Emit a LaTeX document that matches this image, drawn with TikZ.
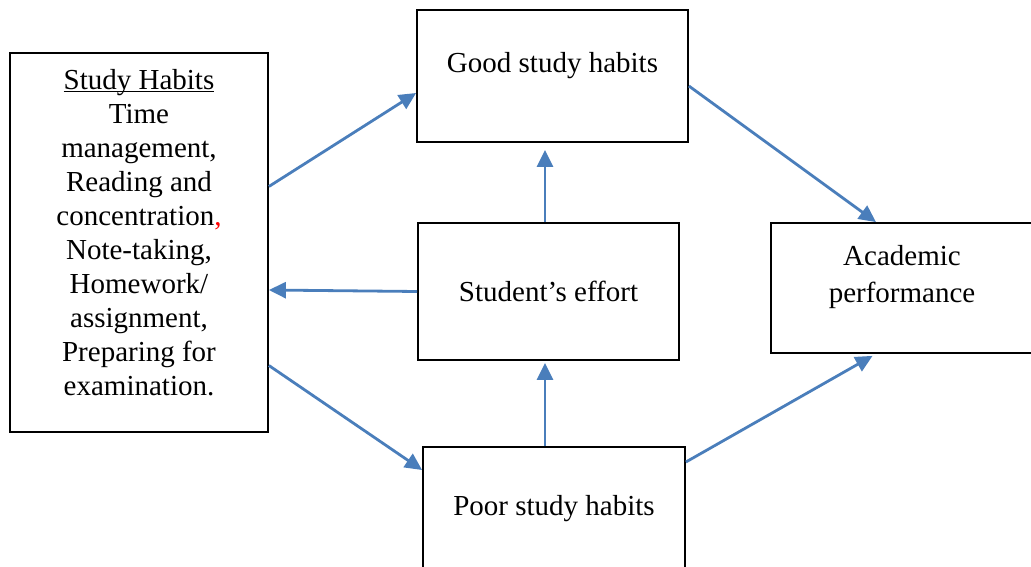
\documentclass[tikz,border=0pt]{standalone}
\usepackage{fontspec}
\setmainfont{Liberation Serif}
\usepackage{xcolor}
\usetikzlibrary{arrows.meta}
\definecolor{linkblue}{RGB}{74,126,187}

\begin{document}
\begin{tikzpicture}[x=1pt, y=-1pt,
	box/.style={draw, line width=1.8pt, align=center, font=\fontsize{29}{34}\selectfont},
	txt/.style={align=center, font=\fontsize{29}{34}\selectfont},
	link/.style={linkblue, line width=2.8pt, -{Triangle[length=17pt,width=16pt]}}]
	\useasboundingbox (0,0) rectangle (1031,567);
	\node [box, minimum width=258pt, minimum height=379pt] (habits) at (139,242.5) {};
	\node [txt] (habitstext) at (139,243) {\underline{\smash{Study Habits}}\\Time\\management,\\Reading and\\concentration\textcolor{red}{,}\\Note-taking,\\Homework/\\assignment,\\Preparing for\\examination.};
	\node [box, minimum width=271pt, minimum height=132pt] (good) at (552.5,76) {};
	\node [txt] (goodtext) at (552.5,66) {Good study habits};
	\node [box, minimum width=261pt, minimum height=137pt] (effort) at (548.5,291.5) {Student’s effort};
	\node [box, minimum width=262pt, minimum height=124pt] (poor) at (554,509) {Poor study habits};
	\node [box, minimum width=262pt, minimum height=130pt] (academic) at (902,288) {};
	\node [txt, font=\fontsize{29}{37}\selectfont] (academictext) at (902,277) {Academic\\performance};
	\draw[link] ([yshift=56pt]habits.east) -- ([yshift=-17pt]good.west);
	\draw[link] (effort.west) -- ([yshift=-47.5pt]habits.east);
	\draw[link] ([yshift=-123pt]habits.east) -- ([yshift=39pt]poor.west);
	\draw[link, shorten >=7pt] ([xshift=-3.5pt]effort.north) -- ([xshift=-7.5pt]good.south);
	\draw[link, shorten >=2pt] ([xshift=-9pt]poor.north) -- ([xshift=-3.5pt]effort.south);
	\draw[link] ([yshift=-10pt]good.east) -- ([xshift=-26pt]academic.north);
	\draw[link, shorten >=4pt] ([yshift=47pt]poor.east) -- ([xshift=-26pt]academic.south);
\end{tikzpicture}
\end{document}
